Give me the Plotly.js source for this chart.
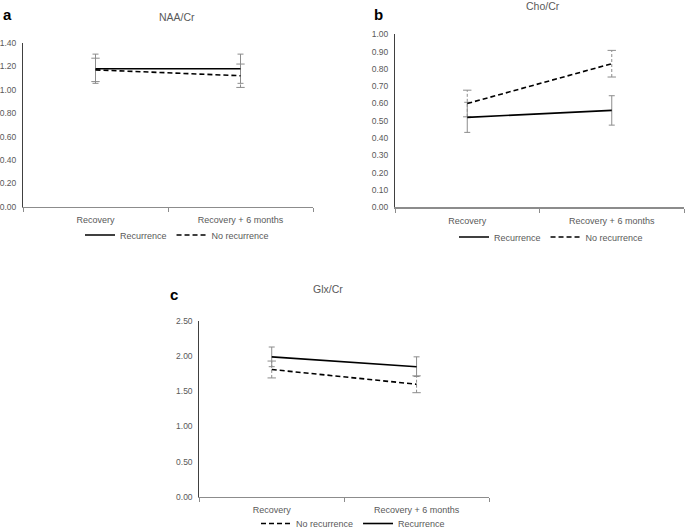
<!DOCTYPE html>
<html>
<head>
<meta charset="utf-8">
<script src="https://cdn.plot.ly/plotly-3.0.1.min.js"></script>
<style>html,body{margin:0;padding:0;background:#fff;}#chart{width:685px;height:531px;}</style>
</head>
<body>
<div id="chart"></div>
<script>
// ---- data ----
var categories = ["Recovery", "Recovery + 6 months"];

var naaRecurrence = [1.18, 1.18];
var naaRecurrenceErr = [0.125, 0.125];
var naaNoRecurrence = [1.17, 1.12];
var naaNoRecurrenceErr = [0.10, 0.10];

var choRecurrence = [0.52, 0.56];
var choRecurrenceErr = [0.087, 0.085];
var choNoRecurrence = [0.60, 0.83];
var choNoRecurrenceErr = [0.077, 0.077];

var glxRecurrence = [1.99, 1.85];
var glxRecurrenceErr = [0.14, 0.14];
var glxNoRecurrence = [1.81, 1.60];
var glxNoRecurrenceErr = [0.12, 0.12];

var panelTitles = ["NAA/Cr", "Cho/Cr", "Glx/Cr"];
var panelLetters = ["a", "b", "c"];
var seriesNames = ["Recurrence", "No recurrence"];

// ---- styling ----
var FONT = "Liberation Sans, Arial, sans-serif";
var TXT = "#595959";
var ERR = "#8c8c8c";
var DASH = "5px,3px";

function solidTrace(vals, errs, xa, ya, lg) {
  return {
    type: "scatter", mode: "lines", x: categories, y: vals,
    xaxis: xa, yaxis: ya, name: seriesNames[0], legend: lg,
    line: {color: "#000000", width: 1.6},
    error_y: {type: "data", array: errs, visible: true, color: ERR, thickness: 1, width: 3},
    hoverinfo: "skip"
  };
}
function dashedTrace(vals, xa, ya, lg) {
  return {
    type: "scatter", mode: "lines", x: categories, y: vals,
    xaxis: xa, yaxis: ya, name: seriesNames[1], legend: lg,
    line: {color: "#000000", width: 1.6, dash: DASH},
    hoverinfo: "skip"
  };
}
function dashedErr(vals, errs, xa, ya) {
  var xs = [], ys = [];
  for (var i = 0; i < categories.length; i++) {
    if (i > 0) { xs.push(categories[i]); ys.push(null); }
    xs.push(categories[i]); ys.push(vals[i] - errs[i]);
    xs.push(categories[i]); ys.push(vals[i] + errs[i]);
  }
  return {
    type: "scatter", mode: "lines+markers", x: xs, y: ys,
    xaxis: xa, yaxis: ya, showlegend: false, connectgaps: false,
    line: {color: ERR, width: 1, dash: "3px,2px"},
    marker: {symbol: "line-ew", size: 6, line: {color: ERR, width: 1}},
    hoverinfo: "skip"
  };
}

var data = [
  dashedErr(naaNoRecurrence, naaNoRecurrenceErr, "x", "y"),
  solidTrace(naaRecurrence, naaRecurrenceErr, "x", "y", "legend"),
  dashedTrace(naaNoRecurrence, "x", "y", "legend"),

  dashedErr(choNoRecurrence, choNoRecurrenceErr, "x2", "y2"),
  solidTrace(choRecurrence, choRecurrenceErr, "x2", "y2", "legend2"),
  dashedTrace(choNoRecurrence, "x2", "y2", "legend2"),

  dashedErr(glxNoRecurrence, glxNoRecurrenceErr, "x3", "y3"),
  dashedTrace(glxNoRecurrence, "x3", "y3", "legend3"),
  solidTrace(glxRecurrence, glxRecurrenceErr, "x3", "y3", "legend3")
];

function xAxis(dom, anchor) {
  return {
    domain: dom, anchor: anchor, type: "category", range: [-0.5, 1.5],
    tickson: "boundaries", ticks: "outside", ticklen: 4, tickcolor: "#8c8c8c", tickwidth: 1,
    showline: true, linecolor: "#8c8c8c", linewidth: 1.5, showgrid: false, zeroline: false,
    ticklabelstandoff: 4,
    tickfont: {family: FONT, size: 9, color: TXT}, fixedrange: true
  };
}
function yAxis(dom, anchor, rmax, dt) {
  return {
    domain: dom, anchor: anchor, range: [0, rmax], dtick: dt, tick0: 0, tickformat: ".2f",
    showline: true, linecolor: "#404040", linewidth: 1, showgrid: false, zeroline: false,
    ticks: "", ticklabelstandoff: 4,
    tickfont: {family: FONT, size: 8.5, color: TXT}, fixedrange: true
  };
}
function px(x) { return x / 685; }
function py(y) { return 1 - y / 531; }

var legendBase = {
  orientation: "h", xanchor: "left", yanchor: "middle", bgcolor: "rgba(0,0,0,0)",
  font: {family: FONT, size: 9, color: TXT}, itemwidth: 30, tracegroupgap: 0
};

function ann(text, x, y, size, color) {
  return {text: text, x: px(x), y: py(y), xref: "paper", yref: "paper", showarrow: false,
          xanchor: "center", yanchor: "middle", font: {family: FONT, size: size, color: color}};
}

var layout = {
  width: 685, height: 531, paper_bgcolor: "#ffffff", plot_bgcolor: "#ffffff",
  margin: {l: 0, r: 0, t: 0, b: 0, autoexpand: false}, showlegend: true,
  xaxis: xAxis([px(23), px(313)], "y"),
  yaxis: yAxis([py(206.7), py(43)], "x", 1.4, 0.2),
  xaxis2: xAxis([px(395), px(684)], "y2"),
  yaxis2: yAxis([py(207.3), py(34.3)], "x2", 1.0, 0.1),
  xaxis3: xAxis([px(199.3), px(489)], "y3"),
  yaxis3: yAxis([py(496.7), py(321)], "x3", 2.5, 0.5),
  legend: Object.assign({}, legendBase, {x: px(80), y: py(235)}),
  legend2: Object.assign({}, legendBase, {x: px(454), y: py(237)}),
  legend3: Object.assign({}, legendBase, {x: px(256), y: py(523.5)}),
  annotations: [
    ann(panelTitles[0], 177, 17, 10.5, TXT),
    ann(panelTitles[1], 543, 6, 10.5, TXT),
    ann(panelTitles[2], 328, 289, 10.5, TXT),
    ann("<b>" + panelLetters[0] + "</b>", 8, 14, 15, "#000"),
    ann("<b>" + panelLetters[1] + "</b>", 379, 14, 15, "#000"),
    ann("<b>" + panelLetters[2] + "</b>", 174, 294, 15, "#000")
  ]
};

Plotly.newPlot("chart", data, layout, {staticPlot: true, displayModeBar: false});
</script>
</body>
</html>
